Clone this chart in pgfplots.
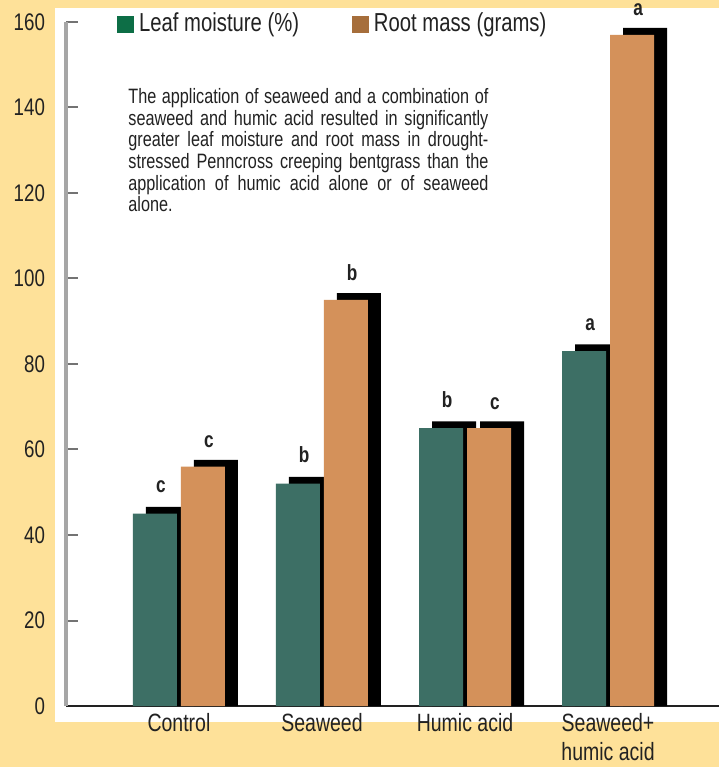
\documentclass[border=0pt]{standalone}
\usepackage{fontspec}
\setmainfont{Liberation Sans}[FakeStretch=0.78]
\usepackage{pgfplots}
\pgfplotsset{compat=1.18}
\usepackage{pgfplotstable}

\definecolor{bgyellow}{HTML}{FEE199}
\definecolor{leafbar}{HTML}{3D6F65}
\definecolor{rootbar}{HTML}{D4915A}
\definecolor{leafkey}{HTML}{0D6E46}
\definecolor{rootkey}{HTML}{A66E3B}
\definecolor{ink}{HTML}{222222}

% leaf moisture (%), root mass (g) and the significance letters
\pgfplotstableread{
x leaf root lleaf lroot
0 45 56  c c
1 52 95  b b
2 65 65  b c
3 83 157 a a
}\data

\begin{document}
\begin{tikzpicture}
  % 1px of the reference = 0.5pt
  \useasboundingbox (0,0) rectangle (359.5pt,383.5pt);
  \fill[bgyellow] (0,0) rectangle (359.5pt,383.5pt);
  \fill[white] (27.5pt,22.5pt) rectangle (359.5pt,379.5pt);

  \begin{axis}[
    at={(33pt,30.5pt)}, anchor=south west,
    scale only axis,
    width=326.5pt, height=342pt,
    ybar, bar width=22pt,
    xmin=-0.79, xmax=3.776,
    ymin=0, ymax=160,
    clip=false,
    axis x line=bottom, axis y line=left,
    x axis line style={-, ink, line width=1.1pt},
    y axis line style={-, black!35, line width=1.6pt},
    xtick={0,1,2,3},
    xticklabels={Control, Seaweed, Humic acid, {Seaweed+\\humic acid}},
    xticklabel style={align=center, font=\fontsize{12.5}{14.5}\selectfont, text=ink,
      yshift=-3pt, inner sep=0.5pt},
    xtick style={draw=none},
    ytick={0,20,...,160},
    ytick style={black!55, line width=1pt},
    tick align=inside,
    major tick length=6pt,
    yticklabel style={font=\fontsize{12}{14}\selectfont, text=ink, xshift=-7pt},
    /pgf/number format/assume math mode=true,
    legend columns=2,
    legend style={at={(0.078,0.997)}, anchor=west, draw=none, fill=none,
      inner sep=0pt, font=\fontsize{13}{15}\selectfont, text=ink,
      nodes={inner sep=2.5pt},
      /tikz/every even column/.append style={column sep=24pt}},
  ]
    \addlegendimage{legend image code/.code={\fill[leafkey] (0pt,-4pt) rectangle (8pt,4pt);}}
    \addlegendentry{Leaf moisture (\%)}
    \addlegendimage{legend image code/.code={\fill[rootkey] (0pt,-4pt) rectangle (8pt,4pt);}}
    \addlegendentry{Root mass (grams)}

    % black drop shadows, offset right and up
    \addplot[fill=black, draw=none, bar shift=-5.5pt, forget plot]
      table[x=x, y expr=\thisrow{leaf}+1.6] {\data};
    \addplot[fill=leafbar, draw=none, bar shift=-12pt, forget plot,
      nodes near coords, point meta=explicit symbolic,
      every node near coord/.append style={anchor=base, yshift=10.5pt, xshift=3pt,
        font=\fontsize{11}{13}\selectfont\bfseries, text=ink}]
      table[x=x, y=leaf, meta=lleaf] {\data};
    \addplot[fill=black, draw=none, bar shift=18.5pt, forget plot]
      table[x=x, y expr=\thisrow{root}+1.6] {\data};
    \addplot[fill=rootbar, draw=none, bar shift=12pt, forget plot,
      nodes near coords, point meta=explicit symbolic,
      every node near coord/.append style={anchor=base, yshift=9.5pt, xshift=3pt,
        font=\fontsize{11}{13}\selectfont\bfseries, text=ink}]
      table[x=x, y=root, meta=lroot] {\data};
  \end{axis}

  \node[anchor=north west, inner sep=0pt, text width=180pt, align=justify,
    font=\fontsize{10.4}{10.85}\selectfont, text=ink]
    at (64pt,339.5pt)
    {The application of seaweed and a combination of seaweed and humic acid resulted in significantly greater leaf moisture and root mass in drought-stressed Penncross creeping bentgrass than the application of humic acid alone or of seaweed alone.};
\end{tikzpicture}
\end{document}
